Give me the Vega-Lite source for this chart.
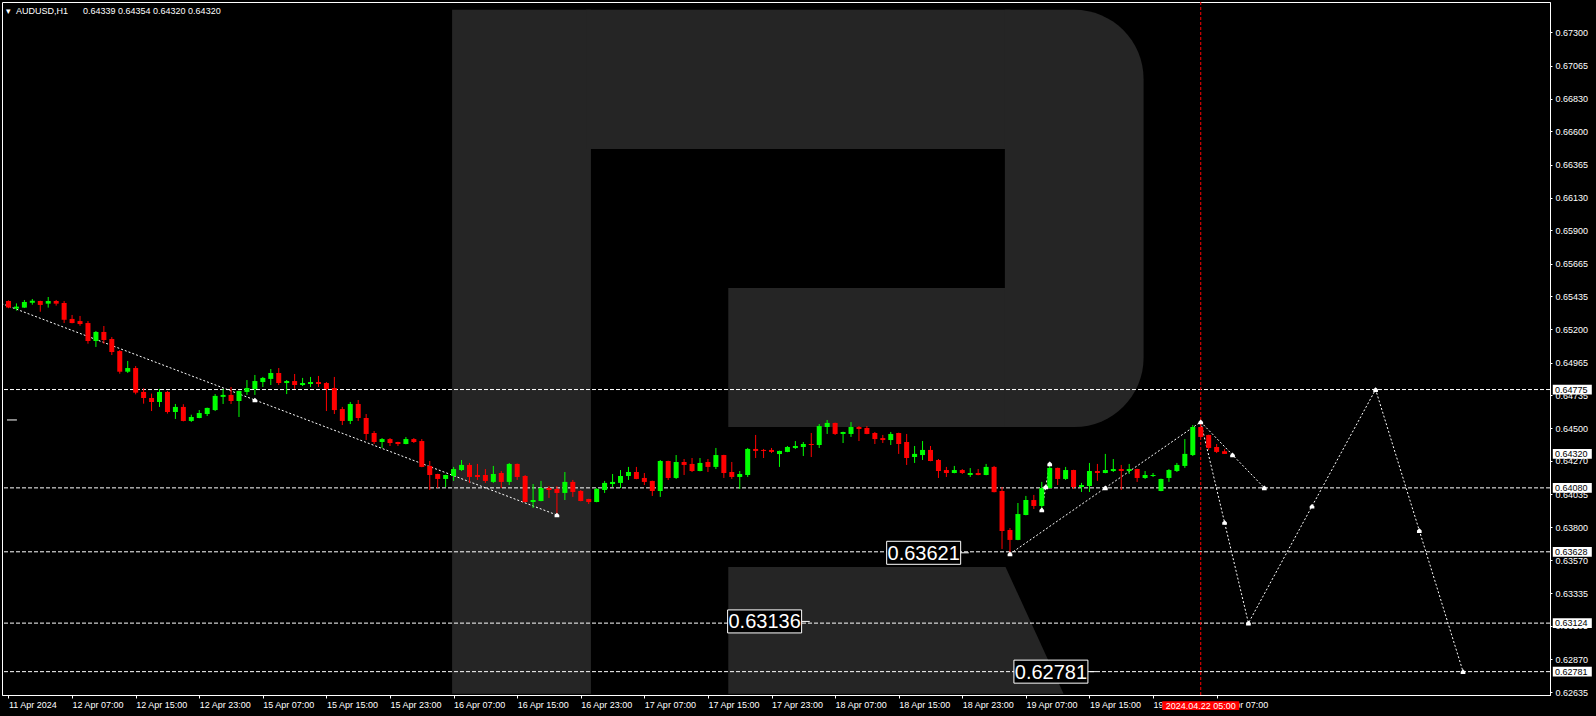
{
  "$schema": "https://vega.github.io/schema/vega-lite/v6.json",
  "width": 1548,
  "height": 693,
  "autosize": {"type": "none"},
  "padding": {"left": 2, "top": 2, "right": 46, "bottom": 21},
  "background": "#000000",
  "config": {
    "view": {"stroke": "#ffffff", "strokeWidth": 1, "fill": "#000000"},
    "font": "Liberation Sans",
    "axis": {"labelOverlap": false, "labelFlush": false, "labelBound": false}
  },
  "title": {
    "text": "▾\u00a0\u00a0AUDUSD,H1\u00a0\u00a0\u00a0\u00a0\u00a0\u00a00.64339 0.64354 0.64320 0.64320",
    "anchor": "start",
    "frame": "group",
    "orient": "top",
    "offset": -11,
    "dx": 4,
    "dy": 10,
    "color": "#ffffff",
    "font": "Liberation Sans",
    "fontSize": 9,
    "fontWeight": "normal",
    "baseline": "alphabetic"
  },
  "datasets": {
    "candles": [
      {"i":0,"o":0.65401,"h":0.65405,"l":0.6535,"c":0.65354},
      {"i":1,"o":0.65347,"h":0.65384,"l":0.65333,"c":0.65361},
      {"i":2,"o":0.65354,"h":0.65408,"l":0.65352,"c":0.65394},
      {"i":3,"o":0.65389,"h":0.65415,"l":0.65375,"c":0.65403},
      {"i":4,"o":0.65401,"h":0.65403,"l":0.65325,"c":0.65373},
      {"i":5,"o":0.65382,"h":0.65429,"l":0.65354,"c":0.65401},
      {"i":6,"o":0.65401,"h":0.65408,"l":0.65368,"c":0.65382},
      {"i":7,"o":0.65387,"h":0.65401,"l":0.65245,"c":0.65269},
      {"i":8,"o":0.65274,"h":0.65302,"l":0.65243,"c":0.65245},
      {"i":9,"o":0.65259,"h":0.65295,"l":0.65226,"c":0.65238},
      {"i":10,"o":0.65245,"h":0.65259,"l":0.65099,"c":0.65118},
      {"i":11,"o":0.65118,"h":0.65189,"l":0.65076,"c":0.65182},
      {"i":12,"o":0.65182,"h":0.65224,"l":0.65099,"c":0.65125},
      {"i":13,"o":0.65132,"h":0.65146,"l":0.65019,"c":0.6504},
      {"i":14,"o":0.65047,"h":0.65054,"l":0.64887,"c":0.64901},
      {"i":15,"o":0.64901,"h":0.64977,"l":0.64892,"c":0.64927},
      {"i":16,"o":0.64927,"h":0.64941,"l":0.64741,"c":0.64753},
      {"i":17,"o":0.64758,"h":0.64784,"l":0.64675,"c":0.64715},
      {"i":18,"o":0.64715,"h":0.64746,"l":0.64623,"c":0.64687},
      {"i":19,"o":0.64687,"h":0.64779,"l":0.64652,"c":0.64758},
      {"i":20,"o":0.64758,"h":0.64765,"l":0.64605,"c":0.64616},
      {"i":21,"o":0.64616,"h":0.64673,"l":0.64567,"c":0.64652},
      {"i":22,"o":0.64652,"h":0.64671,"l":0.6455,"c":0.64553},
      {"i":23,"o":0.64553,"h":0.64597,"l":0.64546,"c":0.64581},
      {"i":24,"o":0.64574,"h":0.6463,"l":0.64572,"c":0.64609},
      {"i":25,"o":0.64602,"h":0.64647,"l":0.64588,"c":0.64645},
      {"i":26,"o":0.6463,"h":0.64743,"l":0.64623,"c":0.6473},
      {"i":27,"o":0.64723,"h":0.64779,"l":0.64673,"c":0.64737},
      {"i":28,"o":0.64737,"h":0.64793,"l":0.64673,"c":0.64694},
      {"i":29,"o":0.64694,"h":0.64767,"l":0.64581,"c":0.64765},
      {"i":30,"o":0.64758,"h":0.64842,"l":0.64737,"c":0.64786},
      {"i":31,"o":0.64779,"h":0.64878,"l":0.64737,"c":0.64835},
      {"i":32,"o":0.64828,"h":0.64864,"l":0.64793,"c":0.64857},
      {"i":33,"o":0.6485,"h":0.6492,"l":0.64807,"c":0.64892},
      {"i":34,"o":0.64892,"h":0.64927,"l":0.64807,"c":0.64821},
      {"i":35,"o":0.64821,"h":0.64842,"l":0.64743,"c":0.64835},
      {"i":36,"o":0.64835,"h":0.64885,"l":0.64779,"c":0.64807},
      {"i":37,"o":0.64807,"h":0.64857,"l":0.648,"c":0.64821},
      {"i":38,"o":0.64814,"h":0.64864,"l":0.64793,"c":0.64828},
      {"i":39,"o":0.64828,"h":0.64871,"l":0.64793,"c":0.64814},
      {"i":40,"o":0.64821,"h":0.64828,"l":0.64623,"c":0.64779},
      {"i":41,"o":0.64786,"h":0.64864,"l":0.64602,"c":0.6463},
      {"i":42,"o":0.64637,"h":0.64652,"l":0.64524,"c":0.64553},
      {"i":43,"o":0.64553,"h":0.64687,"l":0.64531,"c":0.64673},
      {"i":44,"o":0.64673,"h":0.64701,"l":0.64553,"c":0.64574},
      {"i":45,"o":0.64574,"h":0.64602,"l":0.64418,"c":0.64461},
      {"i":46,"o":0.64468,"h":0.64482,"l":0.6439,"c":0.64404},
      {"i":47,"o":0.64404,"h":0.64432,"l":0.64362,"c":0.64425},
      {"i":48,"o":0.64425,"h":0.64432,"l":0.64376,"c":0.64397},
      {"i":49,"o":0.64404,"h":0.64406,"l":0.64376,"c":0.6439},
      {"i":50,"o":0.6439,"h":0.64439,"l":0.64388,"c":0.64425},
      {"i":51,"o":0.64425,"h":0.64432,"l":0.64397,"c":0.64404},
      {"i":52,"o":0.64411,"h":0.64425,"l":0.64226,"c":0.64228},
      {"i":53,"o":0.64235,"h":0.6427,"l":0.64065,"c":0.64171},
      {"i":54,"o":0.64178,"h":0.6418,"l":0.64079,"c":0.64143},
      {"i":55,"o":0.64143,"h":0.64173,"l":0.64086,"c":0.64171},
      {"i":56,"o":0.64164,"h":0.64228,"l":0.64129,"c":0.64213},
      {"i":57,"o":0.64206,"h":0.64277,"l":0.64199,"c":0.64242},
      {"i":58,"o":0.64242,"h":0.64256,"l":0.64115,"c":0.64157},
      {"i":59,"o":0.64171,"h":0.64249,"l":0.64136,"c":0.64157},
      {"i":60,"o":0.64171,"h":0.64213,"l":0.64115,"c":0.64129},
      {"i":61,"o":0.64122,"h":0.64235,"l":0.64115,"c":0.64178},
      {"i":62,"o":0.64185,"h":0.64199,"l":0.64079,"c":0.64122},
      {"i":63,"o":0.64122,"h":0.64256,"l":0.641,"c":0.64249},
      {"i":64,"o":0.64249,"h":0.64252,"l":0.64136,"c":0.64157},
      {"i":65,"o":0.64164,"h":0.64171,"l":0.63978,"c":0.6398},
      {"i":66,"o":0.6398,"h":0.64107,"l":0.63938,"c":0.63994},
      {"i":67,"o":0.63987,"h":0.64129,"l":0.63985,"c":0.64079},
      {"i":68,"o":0.64079,"h":0.64093,"l":0.64009,"c":0.64065},
      {"i":69,"o":0.64072,"h":0.64093,"l":0.63888,"c":0.64044},
      {"i":70,"o":0.64044,"h":0.64192,"l":0.63994,"c":0.64122},
      {"i":71,"o":0.64122,"h":0.64136,"l":0.64016,"c":0.64051},
      {"i":72,"o":0.64058,"h":0.64065,"l":0.63985,"c":0.63987},
      {"i":73,"o":0.64001,"h":0.64003,"l":0.63966,"c":0.6398},
      {"i":74,"o":0.6398,"h":0.64079,"l":0.63978,"c":0.64072},
      {"i":75,"o":0.64065,"h":0.64129,"l":0.64044,"c":0.64115},
      {"i":76,"o":0.64107,"h":0.64178,"l":0.64086,"c":0.64122},
      {"i":77,"o":0.64115,"h":0.64206,"l":0.64079,"c":0.64164},
      {"i":78,"o":0.64164,"h":0.64228,"l":0.64136,"c":0.64192},
      {"i":79,"o":0.64192,"h":0.64228,"l":0.64141,"c":0.64143},
      {"i":80,"o":0.6415,"h":0.64185,"l":0.641,"c":0.64122},
      {"i":81,"o":0.64129,"h":0.64131,"l":0.64023,"c":0.64058},
      {"i":82,"o":0.64058,"h":0.64277,"l":0.64016,"c":0.6427},
      {"i":83,"o":0.6427,"h":0.64272,"l":0.64136,"c":0.6415},
      {"i":84,"o":0.6415,"h":0.64312,"l":0.64143,"c":0.64263},
      {"i":85,"o":0.64263,"h":0.64284,"l":0.64171,"c":0.64242},
      {"i":86,"o":0.64249,"h":0.64291,"l":0.64192,"c":0.64199},
      {"i":87,"o":0.64199,"h":0.64291,"l":0.64197,"c":0.64256},
      {"i":88,"o":0.64263,"h":0.64284,"l":0.64192,"c":0.64228},
      {"i":89,"o":0.64228,"h":0.64362,"l":0.64213,"c":0.64312},
      {"i":90,"o":0.64312,"h":0.64314,"l":0.6415,"c":0.64185},
      {"i":91,"o":0.64192,"h":0.64263,"l":0.64143,"c":0.64157},
      {"i":92,"o":0.64157,"h":0.64199,"l":0.64072,"c":0.64178},
      {"i":93,"o":0.64171,"h":0.64362,"l":0.64157,"c":0.64355},
      {"i":94,"o":0.64355,"h":0.64454,"l":0.64291,"c":0.64341},
      {"i":95,"o":0.64348,"h":0.64355,"l":0.64291,"c":0.64341},
      {"i":96,"o":0.64348,"h":0.64362,"l":0.64326,"c":0.64334},
      {"i":97,"o":0.64319,"h":0.64343,"l":0.64228,"c":0.64341},
      {"i":98,"o":0.64334,"h":0.64376,"l":0.64332,"c":0.64369},
      {"i":99,"o":0.64362,"h":0.64411,"l":0.64355,"c":0.64376},
      {"i":100,"o":0.64369,"h":0.64404,"l":0.64305,"c":0.6439},
      {"i":101,"o":0.6439,"h":0.64468,"l":0.64298,"c":0.64383},
      {"i":102,"o":0.64383,"h":0.64531,"l":0.64362,"c":0.64517},
      {"i":103,"o":0.6451,"h":0.6456,"l":0.64461,"c":0.64539},
      {"i":104,"o":0.64539,"h":0.64541,"l":0.64454,"c":0.64461},
      {"i":105,"o":0.64461,"h":0.64477,"l":0.64397,"c":0.64475},
      {"i":106,"o":0.64461,"h":0.64545,"l":0.6444,"c":0.6451},
      {"i":107,"o":0.6451,"h":0.64517,"l":0.64411,"c":0.64496},
      {"i":108,"o":0.64503,"h":0.64517,"l":0.64459,"c":0.64461},
      {"i":109,"o":0.64468,"h":0.64475,"l":0.6439,"c":0.64425},
      {"i":110,"o":0.64432,"h":0.64454,"l":0.64397,"c":0.64418},
      {"i":111,"o":0.64418,"h":0.64475,"l":0.64383,"c":0.64461},
      {"i":112,"o":0.64468,"h":0.6447,"l":0.6432,"c":0.6439},
      {"i":113,"o":0.64404,"h":0.64461,"l":0.64242,"c":0.64291},
      {"i":114,"o":0.64298,"h":0.64376,"l":0.64256,"c":0.6432},
      {"i":115,"o":0.64312,"h":0.64411,"l":0.64277,"c":0.64348},
      {"i":116,"o":0.64348,"h":0.64376,"l":0.64268,"c":0.6427},
      {"i":117,"o":0.64277,"h":0.64284,"l":0.6415,"c":0.64199},
      {"i":118,"o":0.64206,"h":0.64228,"l":0.64157,"c":0.64185},
      {"i":119,"o":0.64185,"h":0.64235,"l":0.64183,"c":0.64206},
      {"i":120,"o":0.64206,"h":0.64213,"l":0.64178,"c":0.64185},
      {"i":121,"o":0.64171,"h":0.6422,"l":0.64157,"c":0.64185},
      {"i":122,"o":0.64185,"h":0.64213,"l":0.64169,"c":0.64171},
      {"i":123,"o":0.64171,"h":0.64249,"l":0.64169,"c":0.64228},
      {"i":124,"o":0.64228,"h":0.64235,"l":0.64048,"c":0.6405},
      {"i":125,"o":0.64058,"h":0.64086,"l":0.63648,"c":0.63775},
      {"i":126,"o":0.63782,"h":0.63796,"l":0.63613,"c":0.63712},
      {"i":127,"o":0.63712,"h":0.63973,"l":0.6371,"c":0.63895},
      {"i":128,"o":0.63888,"h":0.64023,"l":0.63886,"c":0.63994},
      {"i":129,"o":0.63994,"h":0.6403,"l":0.63931,"c":0.63952},
      {"i":130,"o":0.63952,"h":0.64122,"l":0.63924,"c":0.64079},
      {"i":131,"o":0.64079,"h":0.64256,"l":0.64077,"c":0.64221},
      {"i":132,"o":0.64221,"h":0.64223,"l":0.641,"c":0.64143},
      {"i":133,"o":0.64143,"h":0.64228,"l":0.64136,"c":0.64206},
      {"i":134,"o":0.64206,"h":0.64208,"l":0.64072,"c":0.64086},
      {"i":135,"o":0.64086,"h":0.64115,"l":0.64051,"c":0.641},
      {"i":136,"o":0.64093,"h":0.64256,"l":0.64051,"c":0.64199},
      {"i":137,"o":0.64199,"h":0.64249,"l":0.64129,"c":0.64185},
      {"i":138,"o":0.64185,"h":0.6432,"l":0.64183,"c":0.64206},
      {"i":139,"o":0.64199,"h":0.64284,"l":0.64192,"c":0.64213},
      {"i":140,"o":0.64213,"h":0.64242,"l":0.64065,"c":0.64199},
      {"i":141,"o":0.64199,"h":0.64249,"l":0.64178,"c":0.64213},
      {"i":142,"o":0.64213,"h":0.64215,"l":0.64122,"c":0.6415},
      {"i":143,"o":0.6415,"h":0.64199,"l":0.64143,"c":0.64171},
      {"i":144,"o":0.64164,"h":0.64185,"l":0.64157,"c":0.64171},
      {"i":145,"o":0.64058,"h":0.64145,"l":0.64056,"c":0.64143},
      {"i":146,"o":0.6415,"h":0.64213,"l":0.64122,"c":0.64206},
      {"i":147,"o":0.64199,"h":0.64256,"l":0.64192,"c":0.64242},
      {"i":148,"o":0.64235,"h":0.64425,"l":0.64221,"c":0.6432},
      {"i":149,"o":0.64312,"h":0.64524,"l":0.64305,"c":0.6451},
      {"i":150,"o":0.6451,"h":0.6453,"l":0.64437,"c":0.6444},
      {"i":151,"o":0.64454,"h":0.64456,"l":0.64348,"c":0.64362},
      {"i":152,"o":0.64369,"h":0.6439,"l":0.64326,"c":0.64334},
      {"i":153,"o":0.64339,"h":0.64354,"l":0.6432,"c":0.6432}
    ],
    "logo": [
      {"a": 55.81, "b": 73.28, "p1": 0.67459, "p2": 0.62624},
      {"a": 72.69, "b": 126.06, "p1": 0.67459, "p2": 0.66475},
      {"a": 90.56, "b": 125.9, "p1": 0.65493, "p2": 0.6451}
    ],
    "logoBowl": [
      {"a": 125.36, "b": 142.81, "p1": 0.67459, "p2": 0.6451}
    ],
    "logoLeg": [
      {"p": 0.63521, "a": 90.56, "b": 125.44},
      {"p": 0.62624, "a": 90.56, "b": 132.74}
    ],
    "levels": [
      {"p": 0.64775}, {"p": 0.6408}, {"p": 0.63628}, {"p": 0.63124}, {"p": 0.62781}
    ],
    "tags": [
      {"p": 0.64775}, {"p": 0.6432}, {"p": 0.6408}, {"p": 0.63628}, {"p": 0.63124}, {"p": 0.62781}
    ],
    "cursor": [
      {"i": 150, "t": "2024.04.22 05:00"}
    ],
    "waves": [
      {"s": "w1", "k": 0, "i": -7, "p": 0.65514},
      {"s": "w1", "k": 1, "i": 31, "p": 0.64701},
      {"s": "w1", "k": 2, "i": 69, "p": 0.63888},
      {"s": "w2", "k": 0, "i": 126, "p": 0.63613},
      {"s": "w2", "k": 1, "i": 138, "p": 0.6408},
      {"s": "w2", "k": 2, "i": 150, "p": 0.64546},
      {"s": "w3", "k": 0, "i": 130, "p": 0.63924},
      {"s": "w3", "k": 1, "i": 130.5, "p": 0.64087},
      {"s": "w3", "k": 2, "i": 131, "p": 0.6425},
      {"s": "fa", "k": 0, "i": 150, "p": 0.64546},
      {"s": "fa", "k": 1, "i": 154, "p": 0.64313},
      {"s": "fa", "k": 2, "i": 158, "p": 0.6408},
      {"s": "fb", "k": 0, "i": 150, "p": 0.64546},
      {"s": "fb", "k": 1, "i": 153, "p": 0.63835},
      {"s": "fb", "k": 2, "i": 156, "p": 0.63124},
      {"s": "fb", "k": 3, "i": 164, "p": 0.6395},
      {"s": "fb", "k": 4, "i": 172, "p": 0.64775},
      {"s": "fb", "k": 5, "i": 177.5, "p": 0.63778},
      {"s": "fb", "k": 6, "i": 183, "p": 0.62781}
    ],
    "arrows": [
      {"i": 31, "p": 0.64701}, {"i": 69, "p": 0.63888},
      {"i": 126, "p": 0.63613}, {"i": 138, "p": 0.6408}, {"i": 150, "p": 0.64546},
      {"i": 130, "p": 0.63924}, {"i": 130.5, "p": 0.64087}, {"i": 131, "p": 0.6425},
      {"i": 154, "p": 0.64313}, {"i": 158, "p": 0.6408},
      {"i": 153, "p": 0.63835}, {"i": 156, "p": 0.63124}, {"i": 164, "p": 0.6395},
      {"i": 172, "p": 0.64775}, {"i": 177.5, "p": 0.63778}, {"i": 183, "p": 0.62781}
    ],
    "stub": [
      {"a": -0.19, "b": 1.06, "p": 0.6456}
    ],
    "priceLabels": [
      {"i": 115.14, "p": 0.63621},
      {"i": 95.13, "p": 0.63136},
      {"i": 131.15, "p": 0.62781}
    ]
  },
  "layer": [
    {
      "data": {"name": "logo"},
      "mark": {"type": "rect", "color": "#252525"},
      "encoding": {
        "x": {
          "field": "a", "type": "quantitative",
          "scale": {"domain": [-0.1875, 193.3125], "nice": false, "zero": false},
          "axis": {
            "orient": "bottom",
            "title": null,
            "values": [0, 8, 16, 24, 32, 40, 48, 56, 64, 72, 80, 88, 96, 104, 112, 120, 128, 136, 144, 152],
            "tickCount": 60,
            "labelExpr": "['11 Apr 2024','12 Apr 07:00','12 Apr 15:00','12 Apr 23:00','15 Apr 07:00','15 Apr 15:00','15 Apr 23:00','16 Apr 07:00','16 Apr 15:00','16 Apr 23:00','17 Apr 07:00','17 Apr 15:00','17 Apr 23:00','18 Apr 07:00','18 Apr 15:00','18 Apr 23:00','19 Apr 07:00','19 Apr 15:00','19 Apr 23:00','22 Apr 07:00'][round(datum.value / 8)]",
            "grid": false,
            "domain": true,
            "domainColor": "#ffffff",
            "tickColor": "#ffffff",
            "tickSize": 3,
            "labelColor": "#ffffff",
            "labelFont": "Liberation Sans",
            "labelFontSize": 9,
            "labelAlign": "left",
            "labelBaseline": "top",
            "labelPadding": 2,
            "labelDx": -1,
            "labelOverlap": false,
            "labelFlush": false,
            "labelBound": false
          }
        },
        "x2": {"field": "b"},
        "y": {
          "field": "p1", "type": "quantitative",
          "scale": {"domain": [0.626159, 0.675142], "nice": false, "zero": false},
          "axis": {
            "orient": "right",
            "title": null,
            "values": [0.673, 0.67065, 0.6683, 0.666, 0.66365, 0.6613, 0.659, 0.65665, 0.65435, 0.652, 0.64965, 0.64735, 0.645, 0.6427, 0.64035, 0.638, 0.6357, 0.63335, 0.63105, 0.6287, 0.62635],
            "tickCount": 60,
            "format": ".5f",
            "grid": false,
            "domain": true,
            "domainColor": "#ffffff",
            "tickColor": "#ffffff",
            "tickSize": 2,
            "labelPadding": 3,
            "labelColor": "#ffffff",
            "labelFont": "Liberation Sans",
            "labelFontSize": 9,
            "labelAlign": "left",
            "labelBaseline": "middle",
            "labelOverlap": false,
            "labelSeparation": 0,
            "labelFlush": false,
            "labelBound": false
          }
        },
        "y2": {"field": "p2"}
      }
    },
    {
      "data": {"name": "logoBowl"},
      "mark": {"type": "rect", "color": "#252525", "cornerRadiusTopRight": 130, "cornerRadiusBottomRight": 135},
      "encoding": {
        "x": {"field": "a", "type": "quantitative", "scale": {"domain": [-0.1875, 193.3125], "nice": false, "zero": false}},
        "x2": {"field": "b"},
        "y": {"field": "p1", "type": "quantitative", "scale": {"domain": [0.626159, 0.675142], "nice": false, "zero": false}},
        "y2": {"field": "p2"}
      }
    },
    {
      "data": {"name": "logoLeg"},
      "mark": {"type": "area", "orient": "horizontal", "color": "#252525"},
      "encoding": {
        "y": {"field": "p", "type": "quantitative", "scale": {"domain": [0.626159, 0.675142], "nice": false, "zero": false}},
        "x": {"field": "a", "type": "quantitative", "scale": {"domain": [-0.1875, 193.3125], "nice": false, "zero": false}},
        "x2": {"field": "b"}
      }
    },
    {
      "data": {"name": "levels"},
      "mark": {"type": "rule", "color": "#ffffff", "strokeWidth": 1, "strokeDash": [4, 2]},
      "encoding": {
        "y": {"field": "p", "type": "quantitative", "scale": {"domain": [0.626159, 0.675142], "nice": false, "zero": false}}
      }
    },
    {
      "data": {"name": "cursor"},
      "mark": {"type": "rule", "color": "#ff0000", "strokeWidth": 1, "strokeDash": [3, 2]},
      "encoding": {
        "x": {"field": "i", "type": "quantitative", "scale": {"domain": [-0.1875, 193.3125], "nice": false, "zero": false}}
      }
    },
    {
      "data": {"name": "waves"},
      "mark": {"type": "line", "color": "#ffffff", "strokeWidth": 1, "strokeDash": [2, 2], "clip": true},
      "encoding": {
        "x": {"field": "i", "type": "quantitative", "scale": {"domain": [-0.1875, 193.3125], "nice": false, "zero": false}},
        "y": {"field": "p", "type": "quantitative", "scale": {"domain": [0.626159, 0.675142], "nice": false, "zero": false}},
        "detail": {"field": "s"},
        "order": {"field": "k", "type": "quantitative"}
      }
    },
    {
      "data": {"name": "candles"},
      "mark": {"type": "rule", "strokeWidth": 1, "clip": true},
      "encoding": {
        "x": {"field": "i", "type": "quantitative", "scale": {"domain": [-0.1875, 193.3125], "nice": false, "zero": false}},
        "y": {"field": "l", "type": "quantitative", "scale": {"domain": [0.626159, 0.675142], "nice": false, "zero": false}},
        "y2": {"field": "h"},
        "color": {"condition": {"test": "datum.c >= datum.o", "value": "#00ff00"}, "value": "#ff0000"}
      }
    },
    {
      "data": {"name": "candles"},
      "mark": {"type": "bar", "width": 5, "orient": "vertical", "clip": true},
      "encoding": {
        "x": {"field": "i", "type": "quantitative", "scale": {"domain": [-0.1875, 193.3125], "nice": false, "zero": false}},
        "y": {"field": "o", "type": "quantitative", "scale": {"domain": [0.626159, 0.675142], "nice": false, "zero": false}},
        "y2": {"field": "c"},
        "color": {"condition": {"test": "datum.c >= datum.o", "value": "#00ff00"}, "value": "#ff0000"}
      }
    },
    {
      "data": {"name": "arrows"},
      "mark": {"type": "point", "filled": true, "color": "#ffffff", "shape": "M0,-1L1,0V1H-1V0Z", "size": 22, "opacity": 1},
      "encoding": {
        "x": {"field": "i", "type": "quantitative", "scale": {"domain": [-0.1875, 193.3125], "nice": false, "zero": false}},
        "y": {"field": "p", "type": "quantitative", "scale": {"domain": [0.626159, 0.675142], "nice": false, "zero": false}}
      }
    },
    {
      "data": {"name": "stub"},
      "mark": {"type": "rule", "color": "#ffffff", "strokeWidth": 1},
      "encoding": {
        "x": {"field": "a", "type": "quantitative", "scale": {"domain": [-0.1875, 193.3125], "nice": false, "zero": false}},
        "x2": {"field": "b"},
        "y": {"field": "p", "type": "quantitative", "scale": {"domain": [0.626159, 0.675142], "nice": false, "zero": false}}
      }
    },
    {
      "data": {"name": "priceLabels"},
      "mark": {"type": "point", "filled": true, "fill": "#000000", "stroke": "#ffffff", "strokeWidth": 1, "opacity": 1, "shape": "M-1,-0.311H1V0.311H-1ZM1,0H1.22", "size": 5476},
      "encoding": {
        "x": {"field": "i", "type": "quantitative", "scale": {"domain": [-0.1875, 193.3125], "nice": false, "zero": false}},
        "y": {"field": "p", "type": "quantitative", "scale": {"domain": [0.626159, 0.675142], "nice": false, "zero": false}}
      }
    },
    {
      "data": {"name": "priceLabels"},
      "mark": {"type": "text", "color": "#ffffff", "font": "Liberation Sans", "fontSize": 20, "align": "center", "baseline": "middle", "dy": 1},
      "encoding": {
        "x": {"field": "i", "type": "quantitative", "scale": {"domain": [-0.1875, 193.3125], "nice": false, "zero": false}},
        "y": {"field": "p", "type": "quantitative", "scale": {"domain": [0.626159, 0.675142], "nice": false, "zero": false}},
        "text": {"field": "p", "type": "quantitative", "format": ".5f"}
      }
    },
    {
      "data": {"name": "tags"},
      "mark": {"type": "point", "filled": true, "color": "#ffffff", "opacity": 1, "shape": "M-1,-0.25H1V0.25H-1Z", "size": 1521, "xOffset": 22.3},
      "encoding": {
        "x": {"value": "width"},
        "y": {"field": "p", "type": "quantitative", "scale": {"domain": [0.626159, 0.675142], "nice": false, "zero": false}}
      }
    },
    {
      "data": {"name": "tags"},
      "mark": {"type": "text", "color": "#000000", "font": "Liberation Sans", "fontSize": 9, "align": "left", "baseline": "middle", "xOffset": 5},
      "encoding": {
        "x": {"value": "width"},
        "y": {"field": "p", "type": "quantitative", "scale": {"domain": [0.626159, 0.675142], "nice": false, "zero": false}},
        "text": {"field": "p", "type": "quantitative", "format": ".5f"}
      }
    },
    {
      "data": {"name": "cursor"},
      "mark": {"type": "point", "filled": true, "color": "#ff0000", "opacity": 1, "shape": "M-1,-0.116H1V0.116H-1Z", "size": 5929, "yOffset": 10.6},
      "encoding": {
        "x": {"field": "i", "type": "quantitative", "scale": {"domain": [-0.1875, 193.3125], "nice": false, "zero": false}},
        "y": {"value": "height"}
      }
    },
    {
      "data": {"name": "cursor"},
      "mark": {"type": "text", "color": "#ffffff", "font": "Liberation Sans", "fontSize": 9, "align": "center", "baseline": "middle", "yOffset": 10.6},
      "encoding": {
        "x": {"field": "i", "type": "quantitative", "scale": {"domain": [-0.1875, 193.3125], "nice": false, "zero": false}},
        "y": {"value": "height"},
        "text": {"field": "t"}
      }
    }
  ]
}
